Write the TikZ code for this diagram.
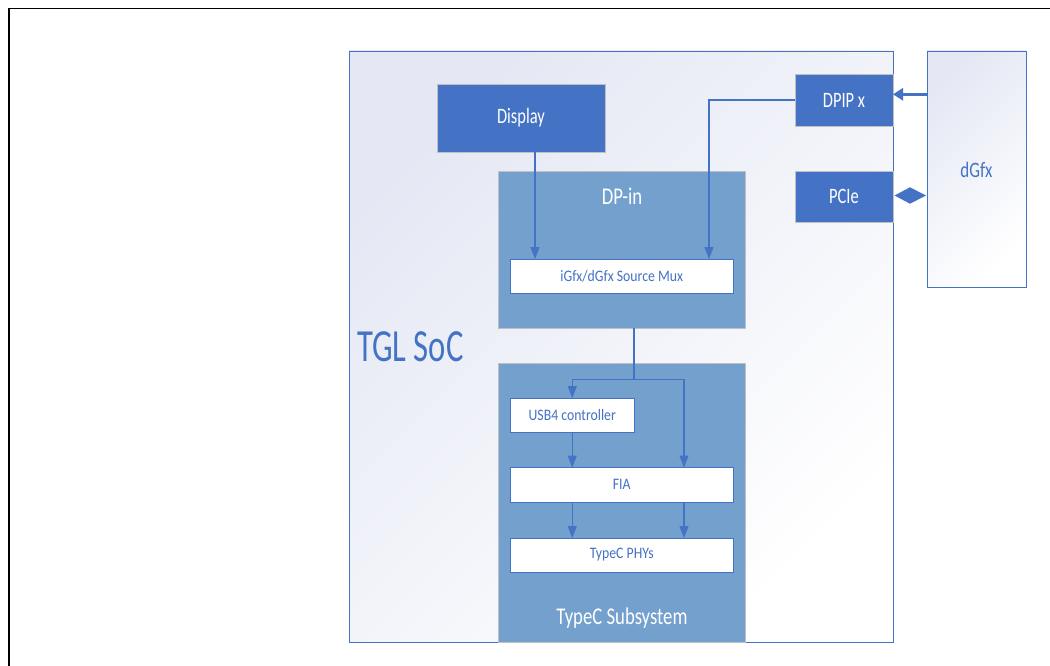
\documentclass[tikz,border=0pt]{standalone}
\usepackage{graphicx}
\usepackage{fontspec}
\setmainfont{Carlito}
\usetikzlibrary{arrows.meta,calc}
\definecolor{dblue}{HTML}{4472C4}
\definecolor{mblue}{RGB}{116,160,206}
\definecolor{gborder}{RGB}{190,192,196}
\definecolor{lav}{RGB}{229,232,244}
\newcommand{\hsq}[2]{\scalebox{#1}[1]{#2}}
\tikzset{
  base/.style={rectangle, inner sep=0pt, outer sep=0pt, anchor=center},
  darkbox/.style={base, fill=dblue, draw=gborder, line width=0.8pt, text=white,
    font=\fontsize{22}{24}\selectfont},
  midbox/.style={base, fill=mblue, draw=gborder, line width=0.8pt},
  whitebox/.style={base, fill=white, draw=dblue, line width=0.9pt, text=dblue,
    font=\fontsize{16}{18}\selectfont},
  outline/.style={base, draw=dblue, line width=0.9pt, shading=axis, top color=lav,
    bottom color=white, shading angle=45},
  bigtext/.style={inner sep=0pt, text=white, font=\fontsize{24}{26}\selectfont},
  conn/.style={draw=dblue, line width=1.2pt},
  arr/.style={conn, -{Triangle[length=12pt,width=9pt]}},
}
\begin{document}
\begin{tikzpicture}[x=1pt,y=-1pt]
\useasboundingbox (0,0) rectangle (1050,666);
\fill[white] (0,0) rectangle (1050,666);
% outer frame
\draw[line width=1.6pt, line cap=rect] (8.7,666) -- (8.7,8.7) -- (1052,8.7);

% containers
\node[outline, minimum width=544pt, minimum height=591pt] (soc) at (621.5,346.5) {};
\node[outline, minimum width=99pt, minimum height=236pt] (dgfx) at (976.5,169) {};
\node[text=dblue, font=\fontsize{22}{24}\selectfont, inner sep=0pt] (dgfxt) at (976.5,170) {\hsq{0.77}{dGfx}};
\node[text=dblue, font=\fontsize{46}{48}\selectfont, inner sep=0pt, anchor=west] (soct) at (357,347) {\hsq{0.71}{TGL SoC}};

% top blocks
\node[darkbox, minimum width=168pt, minimum height=68pt] (disp) at (521,118) {\hsq{0.75}{\raisebox{-1.5pt}{Display}}};
\node[darkbox, minimum width=98pt, minimum height=52pt] (dpip) at (844,100) {\hsq{0.75}{DPIP x}};
\node[darkbox, minimum width=98pt, minimum height=51pt] (pcie) at (844,196.5) {\hsq{0.75}{PCIe}};

% DP-in
\node[midbox, minimum width=247pt, minimum height=157pt] (dpin) at (621.5,249.5) {};
\node[bigtext] (dpint) at (622,196) {\hsq{0.78}{DP-in}};
\node[whitebox, minimum width=222.5pt, minimum height=34pt] (mux) at (621.75,276) {\hsq{0.86}{iGfx/dGfx Source Mux}};

% TypeC subsystem
\node[midbox, minimum width=247pt, minimum height=279pt] (typec) at (621.5,502.5) {};
\node[bigtext] (typect) at (622,618) {\hsq{0.78}{TypeC Subsystem}};
\node[whitebox, minimum width=123.5pt, minimum height=34pt] (usb4) at (572.25,415) {\hsq{0.86}{USB4 controller}};
\node[whitebox, minimum width=222.5pt, minimum height=34.5pt] (fia) at (621.75,484.75) {\hsq{0.86}{FIA}};
\node[whitebox, minimum width=222.5pt, minimum height=34pt] (phy) at (621.75,555) {\hsq{0.86}{TypeC PHYs}};

% helper coordinates
\coordinate (x535) at (535,0);
\coordinate (x709) at (709,0);
\coordinate (jL) at (572.25,379.5);
\coordinate (jM) at (634,379.5);
\coordinate (jR) at (684,379.5);
\coordinate (y94) at (0,94.3);
\coordinate (y196) at (0,195.5);

% connectors
\draw[arr] (disp.south -| x535) -- (mux.north -| x535);
\draw[arr] (dpip.west) -| (mux.north -| x709);
\draw[conn] (dpin.south -| jM) -- (jM);
\draw[arr] (jM) -| (usb4.north);
\draw[arr] (jM) -| (fia.north -| jR);
\draw[arr] (usb4.south) -- (fia.north -| usb4.south);
\draw[arr] (fia.south -| jL) -- (phy.north -| jL);
\draw[arr] (fia.south -| jR) -- (phy.north -| jR);

\draw[draw=dblue, line width=2.6pt, -{Triangle[length=10pt,width=12pt]}] (dgfx.west |- y94) -- (dpip.east |- y94);
% bidirectional PCIe link drawn as a diamond
\fill[dblue] ($(pcie.east |- y196)+(1.5,0)$) -- ($(pcie.east |- y196)!0.5!(dgfx.west |- y196)+(0,-8.2)$)
  -- ($(dgfx.west |- y196)+(-1,0)$) -- ($(pcie.east |- y196)!0.5!(dgfx.west |- y196)+(0,8.2)$) -- cycle;
\end{tikzpicture}
\end{document}
